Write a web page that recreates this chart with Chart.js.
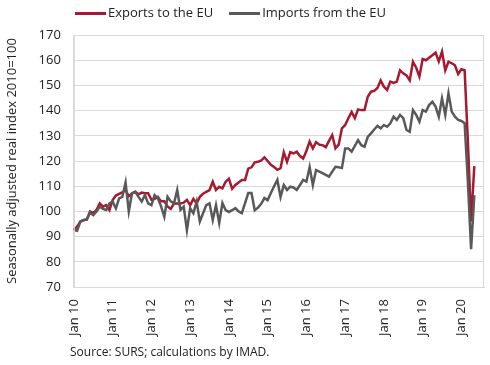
<!DOCTYPE html>
<html>
<head>
<meta charset="utf-8">
<script src="https://cdn.jsdelivr.net/npm/chart.js@4/dist/chart.umd.min.js"></script>
<style>
  body { margin: 0; background: #fff; font-family: "Open Sans", sans-serif; }
  #wrap { position: relative; width: 490px; height: 365px; }
  #legend { position: absolute; top: 3px; left: 75px; font-size: 13px; color: #222; white-space: nowrap; }
  #legend span.item { display: inline-block; margin-right: 16px; }
  #legend span.swatch { display: inline-block; width: 31px; height: 3px; vertical-align: middle; margin-right: 2px; }
  #source { position: absolute; left: 70px; top: 343px; font-size: 12px; color: #222; }
</style>
</head>
<body>
<div id="wrap">
  <canvas id="myChart" width="490" height="365"></canvas>
  <div id="legend"></div>
  <div id="source">Source: SURS; calculations by IMAD.</div>
</div>
<script>
// monthly, Jan 2010 - May 2020
let exports_eu = [
  92.6, 94, 96, 96.5, 96.8, 100, 99.3, 100.6, 103.2, 101.9, 102.5, 100.5,
  104.5, 106.3, 107, 107.6, 108.5, 106, 107.2, 107.8, 106.8, 107.5, 107.2, 107.2,
  104.6, 105, 105.8, 104, 104, 102, 101, 103.2, 103.2, 103.2, 103.5, 104.6,
  102.5, 105, 103.2, 105.8, 107, 107.8, 108.5, 111.8, 108.5, 109.8, 109.2, 111.8,
  113, 109, 110.5, 111.5, 112.5, 112.5, 117, 117.5, 119.5, 119.7, 120.2, 121.5,
  120, 118.5, 117.6, 116.5, 117.2, 123.5, 119.7, 123.5, 123, 123.7, 122, 121,
  124, 127.7, 125, 127.5, 126.5, 126.3, 125.5, 128, 130.3, 125, 126.5, 133,
  134.3, 137, 139.5, 137, 140.5, 140.2, 140.2, 145.5, 147.5, 147.8, 149, 152,
  149.5, 148.2, 151.5, 151, 151.5, 156, 154.8, 154, 152, 159.4, 157, 153.5,
  160.5, 160, 161, 162, 163, 159.5, 163.4, 156, 159.4, 158.8, 158, 154.5,
  156.4, 156, 128, 96, 118
];
let imports_eu = [
  92.6, 92.3, 96, 96.6, 96.8, 99.5, 98.6, 100, 101.9, 101, 100.6, 103.2,
  103.9, 101.2, 105.2, 105.8, 111.5, 100, 107.2, 107.8, 105.8, 103.9, 106.5, 103.2,
  102.5, 106.5, 105.2, 102, 97.9, 105.8, 104, 103.2, 108.5, 100.6, 101.9, 92.6,
  101.2, 99.3, 103.9, 96, 99.3, 102.5, 103.2, 96.6, 102.5, 95.4, 103.3, 100.5,
  99.8, 100.5, 101.3, 100, 99.3, 103.3, 107.3, 107.3, 100.5, 101.5, 103, 105.3,
  104.5, 107.3, 110, 112.5, 105.7, 110.5, 108.5, 109.8, 109.5, 108.5, 110.5, 112.5,
  111.8, 117.6, 110.5, 116.4, 115.8, 115.2, 114.5, 113.8, 115.8, 117.7, 117.5, 117.2,
  125, 125, 123.7, 126, 128.3, 126.3, 125.7, 129.6, 131, 132.5, 133.9, 133,
  134.3, 133.6, 135, 137.6, 136.3, 138.3, 137, 132.3, 131.6, 140.2, 138.3, 135.6,
  140.2, 139.6, 142.2, 143.5, 141.6, 137.6, 144.9, 138.3, 146.9, 139.6, 137.6, 136.3,
  135.9, 135, 112, 85, 106.5
];
// axis runs a little past the last month
let month_names = ["Jan", "Feb", "Mar", "Apr", "May", "Jun", "Jul", "Aug", "Sep", "Oct", "Nov", "Dec"];
let labels = [];
for (let i = 0; i < 128; i++) {
  let yy = ("0" + (10 + Math.floor(i / 12))).slice(-2);
  labels.push(month_names[i % 12] + " " + yy);
}
let series_names = ["Exports to the EU", "Imports from the EU"];
let series_colors = ["#a6192e", "#595959"];

let legend = document.getElementById("legend");
for (let i = 0; i < series_names.length; i++) {
  let item = document.createElement("span");
  item.className = "item";
  item.innerHTML = '<span class="swatch" style="background:' + series_colors[i] + '"></span>' + series_names[i];
  legend.appendChild(item);
}

const plotBorder = {
  id: "plotBorder",
  afterDraw(chart) {
    const a = chart.chartArea;
    const ctx = chart.ctx;
    ctx.save();
    ctx.strokeStyle = "#d9d9d9";
    ctx.lineWidth = 1;
    ctx.strokeRect(a.left + 0.5, a.top + 0.5, a.right - a.left - 1, a.bottom - a.top);
    ctx.restore();
  }
};

const data = {
  labels: labels,
  datasets: [
    {
      label: series_names[1],
      data: imports_eu,
      borderColor: series_colors[1],
      backgroundColor: series_colors[1],
      borderWidth: 2.5,
      pointRadius: 0,
      tension: 0,
    },
    {
      label: series_names[0],
      data: exports_eu,
      borderColor: series_colors[0],
      backgroundColor: series_colors[0],
      borderWidth: 2.5,
      pointRadius: 0,
      tension: 0,
    },
  ],
};

const config = {
  type: "line",
  data: data,
  plugins: [plotBorder],
  options: {
    responsive: false,
    animation: false,
    layout: { padding: { top: 35, right: 6, bottom: 25, left: 4 } },
    plugins: {
      legend: { display: false },
      tooltip: { enabled: false },
    },
    scales: {
      x: {
        offset: false,
        grid: { display: false },
        border: { color: "#d9d9d9" },
        ticks: {
          autoSkip: false,
          maxRotation: 90,
          minRotation: 90,
          padding: 4,
          color: "#222",
          font: { family: "Open Sans", size: 13 },
          callback: function (value, index) {
            return index % 12 == 0 ? labels[index] : null;
          },
        },
      },
      y: {
        min: 70,
        max: 170,
        grid: { color: "#d9d9d9", drawTicks: false },
        border: { color: "#d9d9d9" },
        ticks: {
          stepSize: 10,
          padding: 13,
          color: "#222",
          font: { family: "Open Sans", size: 13 },
        },
        title: {
          display: true,
          text: "Seasonally adjusted real index 2010=100",
          color: "#222",
          font: { family: "Open Sans", size: 13 },
          padding: { top: 0, bottom: 6 },
        },
      },
    },
  },
};

let myChart = new Chart(document.getElementById("myChart"), config);
</script>
</body>
</html>
